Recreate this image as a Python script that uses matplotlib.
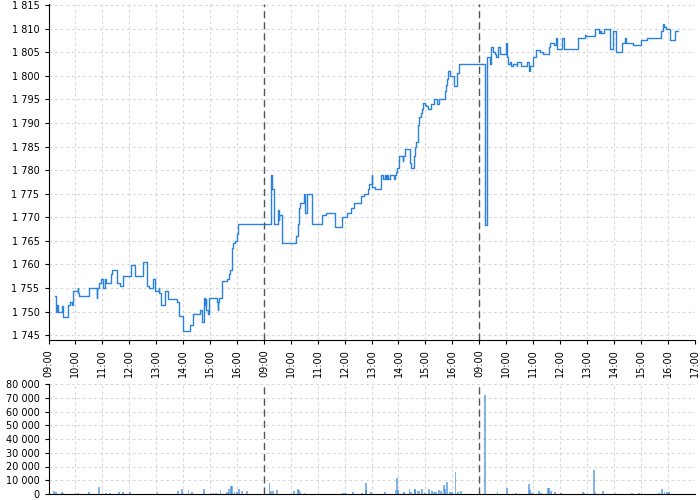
import matplotlib
matplotlib.use("Agg")
import matplotlib.pyplot as plt
from matplotlib.ticker import FuncFormatter, MultipleLocator

# price steps: hours since first session open (3 sessions of 8h), price
price_t = [0.24, 0.27, 0.32, 0.37, 0.50, 0.55, 0.71, 0.81, 0.86, 0.91, 1.09, 1.11, 1.14, 1.51, 1.79, 1.81,
           1.89, 1.95, 2.03, 2.11, 2.13, 2.31, 2.34, 2.56, 2.66, 2.75, 3.05, 3.08, 3.23, 3.52, 3.65, 3.75,
           3.87, 3.97, 4.09, 4.11, 4.16, 4.32, 4.42, 4.79, 4.84, 5.01, 5.24, 5.38, 5.61, 5.71, 5.79, 5.82,
           5.84, 5.86, 5.91, 5.98, 6.25, 6.28, 6.30, 6.35, 6.43, 6.46, 6.63, 6.70, 6.75, 6.80, 6.82, 6.87,
           6.92, 7.02, 7.05,
           8.27, 8.29, 8.31, 8.37, 8.52, 8.56, 8.57, 8.69, 9.19, 9.27, 9.30, 9.36, 9.49, 9.53, 9.60, 9.79,
           10.16, 10.31, 10.64, 10.66, 10.90, 11.09, 11.25, 11.36, 11.61, 11.72, 11.85, 11.91, 12.01, 12.03,
           12.14, 12.35, 12.44, 12.49, 12.54, 12.57, 12.60, 12.67, 12.84, 12.86, 12.90, 12.96, 13.01, 13.16,
           13.18, 13.25, 13.43, 13.48, 13.56, 13.62, 13.66, 13.71, 13.77, 13.83, 13.87, 13.92, 13.98, 14.04,
           14.08, 14.22, 14.33, 14.43, 14.50, 14.72, 14.77, 14.82, 14.85, 14.92, 15.07, 15.16, 15.18, 15.26,
           16.22, 16.29,
           16.41, 16.44, 16.52, 16.59, 16.64, 16.70, 16.78, 17.00, 17.02, 17.07, 17.14, 17.19, 17.26, 17.40,
           17.41, 17.54, 17.78, 17.84, 17.88, 18.00, 18.09, 18.27, 18.35, 18.59, 18.64, 18.78, 18.85, 18.88,
           19.07, 19.16, 19.67, 19.94, 19.96, 20.30, 20.43, 20.48, 20.53, 20.63, 20.85, 20.96, 21.09, 21.31,
           21.40, 21.46, 21.70, 22.00, 22.23, 22.75, 22.81, 22.85, 22.93, 23.07, 23.26, 23.38]
price = [1753.3, 1750.0, 1751.5, 1750.0, 1751.1, 1748.9, 1751.5, 1752.0, 1751.5, 1754.4, 1755.1, 1754.0,
         1753.4, 1755.1, 1753.0, 1755.1, 1756.1, 1757.0, 1755.1, 1757.0, 1756.1, 1758.0, 1758.9, 1756.1,
         1755.5, 1757.5, 1758.0, 1759.9, 1757.5, 1760.6, 1755.5, 1755.1, 1757.0, 1754.4, 1755.1, 1754.0,
         1751.5, 1754.4, 1752.6, 1752.0, 1749.0, 1746.0, 1747.1, 1749.6, 1750.4, 1747.9, 1753.0, 1751.5,
         1752.6, 1750.4, 1749.6, 1753.0, 1752.0, 1750.4, 1752.0, 1753.0, 1755.1, 1756.5, 1757.0, 1758.0,
         1758.9, 1759.9, 1763.5, 1764.6, 1765.0, 1766.5, 1768.5,
         1779.0, 1777.4, 1776.0, 1768.5, 1771.5, 1769.5, 1770.5, 1764.6, 1766.0, 1768.5, 1772.0, 1773.0,
         1775.0, 1770.9, 1775.0, 1768.5, 1770.5, 1771.0, 1770.0, 1768.0, 1770.0, 1771.0, 1772.0, 1773.0,
         1774.5, 1775.0, 1776.0, 1777.0, 1779.0, 1776.5, 1776.0, 1779.0, 1778.1, 1779.0, 1778.1, 1779.0,
         1778.1, 1779.0, 1778.1, 1779.0, 1779.5, 1780.4, 1782.9, 1782.0, 1782.9, 1784.4, 1781.5, 1780.4,
         1782.9, 1785.0, 1786.0, 1789.5, 1791.3, 1792.0, 1793.0, 1794.3, 1793.9, 1793.5, 1792.9, 1794.0,
         1795.0, 1794.0, 1795.0, 1796.8, 1798.0, 1799.4, 1800.9, 1800.0, 1797.9, 1799.0, 1800.5, 1802.4,
         1768.4, 1803.9,
         1802.4, 1806.0, 1805.0, 1804.5, 1803.9, 1806.0, 1804.6, 1807.0, 1803.9, 1802.4, 1803.0, 1802.0,
         1802.4, 1802.0, 1803.0, 1802.0, 1803.0, 1801.0, 1802.0, 1803.9, 1805.5, 1805.0, 1804.6, 1806.0,
         1807.0, 1806.5, 1807.9, 1805.6, 1807.9, 1805.6, 1807.9, 1808.6, 1808.5, 1810.0, 1809.0, 1809.5,
         1809.0, 1810.0, 1805.6, 1809.4, 1805.0, 1807.0, 1807.9, 1807.0, 1806.5, 1807.5, 1807.9, 1809.4,
         1811.0, 1810.4, 1810.0, 1807.5, 1809.4, 1809.4]

vol_t = [0.20, 0.28, 0.50, 0.53, 1.10, 1.49, 1.87, 2.14, 2.29, 2.61, 2.76, 3.02, 4.05, 4.82, 4.97, 5.20,
         5.34, 5.78, 6.10, 6.23, 6.39, 6.64, 6.70, 6.77, 6.81, 6.91, 6.99, 7.09, 7.19, 7.37,
         8.21, 8.27, 8.33, 8.48, 9.13, 9.28, 9.32, 9.36, 9.51, 10.93, 11.02, 11.30, 11.65, 11.78, 11.80,
         11.97, 12.49, 12.89, 12.93, 12.98, 13.19, 13.22, 13.41, 13.47, 13.60, 13.63, 13.72, 13.78, 13.88,
         13.97, 14.15, 14.25, 14.33, 14.40, 14.50, 14.59, 14.68, 14.72, 14.80, 14.90, 15.00, 15.12, 15.22,
         15.33,
         16.21, 16.68, 17.02, 17.37, 17.84, 17.88, 17.97, 18.21, 18.28, 18.54, 18.58, 18.65, 18.80, 19.05,
         19.85, 19.91, 20.25, 20.32, 20.59, 21.06, 21.66, 21.95, 22.67, 22.78, 22.88, 22.98, 23.04]
volume = [2000, 1500, 1200, 1000, 1000, 1800, 5000, 800, 1000, 1200, 1500, 1200, 1200, 2000, 4000, 3000,
          1200, 3500, 800, 800, 3000, 1500, 3500, 6000, 5500, 1500, 1500, 3500, 2500, 2000,
          8000, 2500, 2500, 3000, 2000, 3500, 3000, 1500, 1000, 800, 800, 1800, 600, 7800, 3000,
          1200, 1500, 3000, 11500, 3000, 1000, 1200, 3500, 1500, 3000, 4000, 2000, 2000, 3500,
          800, 3500, 2500, 1500, 1500, 3000, 2500, 6500, 4000, 9000, 1500, 1500, 16000, 1800,
          2000,
          72000, 1500, 4500, 800, 7000, 3000, 1000, 2000, 1000, 4500, 4500, 2000, 1500, 800,
          1200, 800, 17500, 1500, 2500, 600, 600, 600, 600, 4000, 1200, 1500, 1500]

tick_labels = ["09:00", "10:00", "11:00", "12:00", "13:00", "14:00", "15:00", "16:00"] * 3 + ["17:00"]
day_breaks = [8, 16]

blue = "#2b82dc"
space_fmt = FuncFormatter(lambda v, p: f"{v:,.0f}".replace(",", " "))

fig = plt.figure(figsize=(7, 5), dpi=100)
ax = fig.add_axes([0.0693, 0.32, 0.923, 0.672])
axv = fig.add_axes([0.0693, 0.012, 0.923, 0.22])

ax.plot(price_t, price, drawstyle="steps-post", color=blue, lw=1.0)
axv.bar(vol_t, volume, width=0.07, color=blue, alpha=0.6, linewidth=0)

for a in (ax, axv):
    a.set_xlim(0, 24)
    a.xaxis.set_major_locator(MultipleLocator(1))
    a.grid(True, color="#d8d8d8", linestyle=(0, (2.5, 2.5)), linewidth=0.8)
    a.set_axisbelow(True)
    for x in day_breaks:
        a.axvline(x, color="#555555", linestyle=(0, (5, 3)), linewidth=1.0)
    a.spines["top"].set_visible(False)
    a.spines["right"].set_visible(False)
    a.tick_params(labelsize=7, length=3, width=0.8, colors="black")

ax.set_ylim(1744, 1815.2)
ax.yaxis.set_major_locator(MultipleLocator(5))
ax.yaxis.set_major_formatter(space_fmt)
ax.set_xticks(range(25))
ax.set_xticklabels(tick_labels, rotation=90)

axv.set_ylim(0, 80000)
axv.yaxis.set_major_locator(MultipleLocator(10000))
axv.yaxis.set_major_formatter(space_fmt)
axv.tick_params(axis="x", length=0, labelbottom=False)

fig.savefig("out.png", dpi=100)
